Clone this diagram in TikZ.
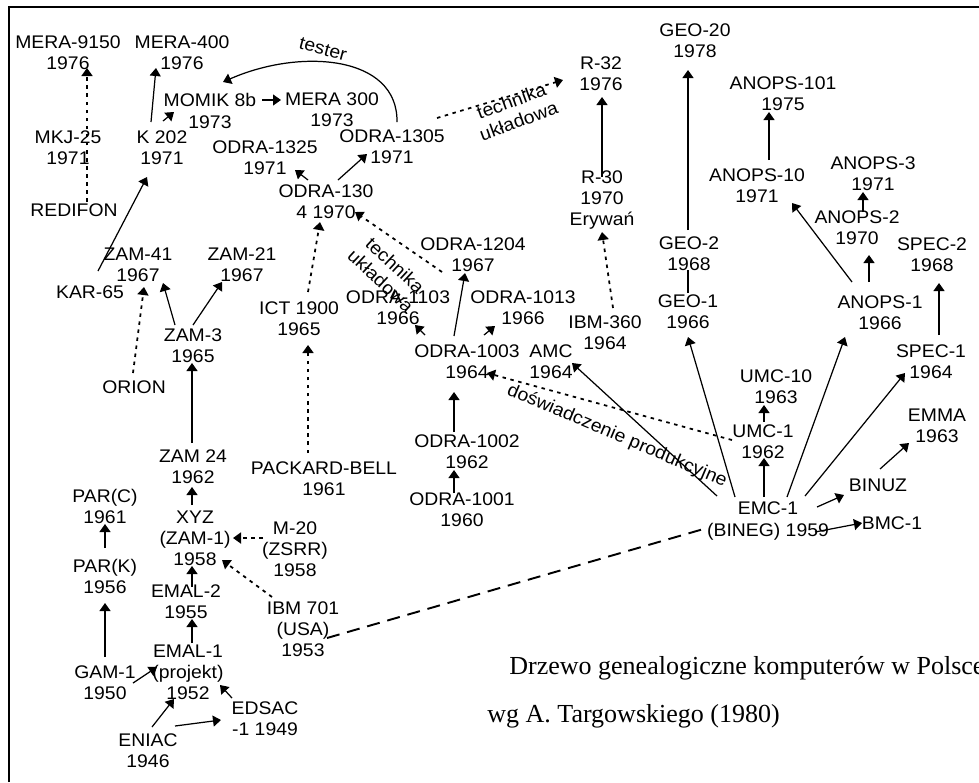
\documentclass[tikz,border=0pt]{standalone}
\usepackage{fontspec}
\setmainfont{Liberation Serif}
\newfontfamily\lblfont{Liberation Sans}[FakeStretch=1.06]
\usetikzlibrary{arrows.meta,calc}
\tikzset{
  lbl/.style={align=center, inner sep=0pt, font=\lblfont\fontsize{10.4}{12}\selectfont},
  capt/.style={anchor=west, inner sep=0pt, font=\fontsize{14.8}{18}\selectfont},
  arr/.style={line width=0.7pt, -{Triangle[length=1.6mm,width=2.2mm]}},
  dotarr/.style={line width=1pt, dash pattern=on 2pt off 2.6pt, -{Triangle[length=1.6mm,width=2.2mm]}},
  plain/.style={line width=0.7pt},
  dashline/.style={line width=1.1pt, dash pattern=on 7.4pt off 4.5pt},
  frame/.style={line width=1.2pt}
}
\begin{document}
\begin{tikzpicture}[x=0.02cm,y=-0.02cm]
\useasboundingbox (0,0) rectangle (979,782);
\draw[frame] (9,782) -- (9,7) -- (979,7);

% left branch
\node[lbl] (mera9150) at (68,53) {MERA-9150\\1976};
\node[lbl] (mera400) at (182,53) {MERA-400\\1976};
\node[lbl] (momik) at (210,111) {MOMIK 8b\\1973};
\node[lbl] (mera300) at (332,110) {MERA 300\\1973};
\node[lbl] (mkj) at (68,148) {MKJ-25\\1971};
\node[lbl] (k202) at (162,148) {K 202\\1971};
\node[lbl] (redifon) at (74,210) {REDIFON};
\node[lbl] (kar65) at (90,292) {KAR-65};
\node[lbl] (zam41) at (138,265) {ZAM-41\\1967};
\node[lbl] (zam21) at (242,265) {ZAM-21\\1967};
\node[lbl] (orion) at (134,387) {ORION};
\node[lbl] (zam3) at (193,346) {ZAM-3\\1965};
\node[lbl] (zam24) at (193,467) {ZAM 24\\1962};
\node[lbl] (parc) at (105,506) {PAR(C)\\1961};
\node[lbl] (park) at (105,576) {PAR(K)\\1956};
\node[lbl] (gam1) at (105,683) {GAM-1\\1950};
\node[lbl] (xyz) at (195,538) {XYZ\\(ZAM-1)\\1958};
\node[lbl] (m20) at (295,549) {M-20\\(ZSRR)\\1958};
\node[lbl] (emal2) at (186,602) {EMAL-2\\1955};
\node[lbl] (ibm701) at (303,629) {IBM 701\\(USA)\\1953};
\node[lbl] (emal1) at (188,672) {EMAL-1\\(projekt)\\1952};
\node[lbl] (eniac) at (148,751) {ENIAC\\1946};
\node[lbl] (edsac) at (265,719) {EDSAC\\-1 1949};

% odra
\node[lbl] (odra1325) at (265,158) {ODRA-1325\\1971};
\node[lbl] (odra1305) at (392,147) {ODRA-1305\\1971};
\node[lbl] (odra130) at (326,202) {ODRA-130\\4 1970};
\node[lbl] (ict) at (299,319) {ICT 1900\\1965};
\node[lbl] (packard) at (324,479) {PACKARD-BELL\\1961};
\node[lbl] (odra1204) at (473,255) {ODRA-1204\\1967};
\node[lbl] (odra1013) at (523,308) {ODRA-1013\\1966};
\node[lbl] (odra1103) at (398,308) {ODRA-1103\\1966};
\node[lbl] (odra1003) at (467,362) {ODRA-1003\\1964};
\node[lbl] (amc) at (551,362) {AMC\\1964};
\node[lbl] (odra1002) at (467,452) {ODRA-1002\\1962};
\node[lbl] (odra1001) at (462,510) {ODRA-1001\\1960};

% right branch
\node[lbl] (r32) at (601,74) {R-32\\1976};
\node[lbl] (r30) at (602,200) {R-30\\1970\\Erywań};
\node[lbl] (ibm360) at (605,333) {IBM-360\\1964};
\node[lbl] (geo20) at (695,41) {GEO-20\\1978};
\node[lbl] (geo2) at (689,254) {GEO-2\\1968};
\node[lbl] (geo1) at (688,312) {GEO-1\\1966};
\node[lbl] (anops101) at (783,94) {ANOPS-101\\1975};
\node[lbl] (anops10) at (757,186) {ANOPS-10\\1971};
\node[lbl] (anops3) at (873,174) {ANOPS-3\\1971};
\node[lbl] (anops2) at (857,228) {ANOPS-2\\1970};
\node[lbl] (spec2) at (932,255) {SPEC-2\\1968};
\node[lbl] (anops1) at (880,313) {ANOPS-1\\1966};
\node[lbl] (spec1) at (931,362) {SPEC-1\\1964};
\node[lbl] (umc10) at (776,387) {UMC-10\\1963};
\node[lbl] (umc1) at (763,442) {UMC-1\\1962};
\node[lbl] (emma) at (937,426) {EMMA\\1963};
\node[lbl] (binuz) at (878,485) {BINUZ};
\node[lbl] (emc1) at (768,521) {EMC-1\\(BINEG) 1959};
\node[lbl] (bmc1) at (892,523) {BMC-1};

% edge labels
\node[lbl, rotate=-15] (tester) at (323,49) {tester};
\node[lbl, rotate=20] (tu1) at (515,111) {technika\\układowa};
\node[lbl, rotate=-43] (tu2) at (388,273) {technika\\układowa};
\node[lbl, rotate=-23] (dosw) at (617,436) {doświadczenie produkcyjne};

% captions
\node[capt] (capt1) at (509,668) {Drzewo genealogiczne komputerów w Polsce};
\node[capt] (capt2) at (487,716) {wg A. Targowskiego (1980)};

% connectors, left
\draw[dotarr] ($(redifon)+(13,-8)$) -- ($(mera9150)+(19,15)$);
\draw[arr] ($(k202)+(-11,-26)$) -- ($(mera400)+(-26,15)$);
\draw[arr] ($(k202)+(1,-27)$) -- ($(momik)+(-36,1)$);
\draw[arr] ($(momik)+(52,-11)$) -- ($(mera300)+(-51,-10)$);
\draw[arr] ($(kar65)+(8,-21)$) -- ($(k202)+(-15,29)$);
\draw[arr] ($(odra1305)+(5,-25)$) .. controls (398,55) and (300,48) .. ($(momik)+(13,-29)$);
\draw[arr] ($(odra130)+(-18,-22)$) -- ($(odra1325)+(30,12)$);
\draw[arr] ($(odra130)+(12,-22)$) -- ($(odra1305)+(-25,7)$);
\draw[dotarr] ($(odra1305)+(45,-29)$) -- ($(r32)+(-38,6)$);
\draw[dotarr] ($(orion)+(-1,-14)$) -- ($(zam41)+(6,22)$);
\draw[arr] ($(zam3)+(-18,-21)$) -- ($(zam41)+(25,18)$);
\draw[arr] ($(zam3)+(0,-21)$) -- ($(zam21)+(-20,17)$);
\draw[arr] ($(zam24)+(-1,-24)$) -- ($(zam3)+(-1,17)$);
\draw[arr] ($(xyz)+(-3,-33)$) -- ($(zam24)+(-1,20)$);
\draw[arr] ($(park)+(0,-28)$) -- ($(parc)+(0,18)$);
\draw[arr] ($(gam1)+(0,-26)$) -- ($(park)+(0,27)$);
\draw[arr] ($(gam1)+(28,0)$) -- ($(emal1)+(-31,-5)$);
\draw[dotarr] ($(m20)+(-32,-11)$) -- ($(xyz)+(38,0)$);
\draw[arr] ($(emal2)+(6,-15)$) -- ($(xyz)+(-3,28)$);
\draw[dotarr] ($(ibm701)+(-31,-32)$) -- ($(xyz)+(27,22)$);
\draw[arr] ($(emal1)+(4,-29)$) -- ($(emal2)+(6,17)$);
\draw[arr] ($(eniac)+(4,-24)$) -- ($(emal1)+(-14,27)$);
\draw[arr] ($(eniac)+(27,-25)$) -- ($(edsac)+(-44,1)$);
\draw[arr] ($(edsac)+(-33,-21)$) -- ($(emal1)+(32,13)$);
\draw[dashline] ($(ibm701)+(24,9)$) -- ($(emc1)+(-61,7)$);

% connectors, odra
\draw[dotarr] ($(packard)+(-16,-26)$) -- ($(ict)+(9,26)$);
\draw[dotarr] ($(ict)+(9,-27)$) -- ($(odra130)+(-6,20)$);
\draw[dotarr] ($(odra1204)+(-31,17)$) -- ($(odra130)+(29,10)$);
\draw[arr] ($(odra1002)+(-13,-20)$) -- ($(odra1003)+(-13,30)$);
\draw[arr] ($(odra1001)+(-8,-17)$) -- ($(odra1002)+(-13,18)$);
\draw[arr] ($(odra1003)+(-13,-26)$) -- ($(odra1204)+(-8,18)$);
\draw[arr] ($(odra1003)+(17,-27)$) -- ($(odra1013)+(-28,18)$);
\draw[arr] ($(odra1003)+(-42,-27)$) -- ($(odra1103)+(17,17)$);

% connectors, right
\draw[arr] ($(r30)+(0,-23)$) -- ($(r32)+(1,23)$);
\draw[dotarr] ($(ibm360)+(8,-25)$) -- ($(r30)+(0,32)$);
\draw[arr] ($(geo2)+(-1,-24)$) -- ($(geo20)+(-7,29)$);
\draw[plain] ($(geo1)+(0,-19)$) -- ($(geo2)+(-1,16)$);
\draw[arr] ($(anops10)+(12,-26)$) -- ($(anops101)+(-14,18)$);
\draw[arr] ($(anops2)+(6,-16)$) -- ($(anops3)+(-10,18)$);
\draw[arr] ($(anops1)+(-28,-31)$) -- ($(anops10)+(35,17)$);
\draw[arr] ($(anops1)+(-11,-31)$) -- ($(anops2)+(12,27)$);
\draw[arr] ($(spec1)+(8,-27)$) -- ($(spec2)+(7,28)$);
\draw[arr] ($(umc1)+(1,-20)$) -- ($(umc10)+(-12,18)$);
\draw[arr] ($(emc1)+(-4,-24)$) -- ($(umc1)+(1,16)$);
\draw[arr] ($(binuz)+(2,-16)$) -- ($(emma)+(-28,17)$);
\draw[arr] ($(emc1)+(49,-14)$) -- ($(binuz)+(-34,10)$);
\draw[arr] ($(emc1)+(47,11)$) -- ($(bmc1)+(-30,0)$);
\draw[arr] ($(emc1)+(-33,-24)$) -- ($(geo1)+(0,25)$);
\draw[arr] ($(emc1)+(19,-24)$) -- ($(anops1)+(-35,24)$);
\draw[arr] ($(emc1)+(37,-25)$) -- ($(spec1)+(-26,11)$);
\draw[arr] ($(emc1)+(-51,-25)$) -- ($(amc)+(21,1)$);
\draw[dotarr] ($(umc1)+(-31,-2)$) -- ($(odra1003)+(20,11)$);
\end{tikzpicture}
\end{document}
